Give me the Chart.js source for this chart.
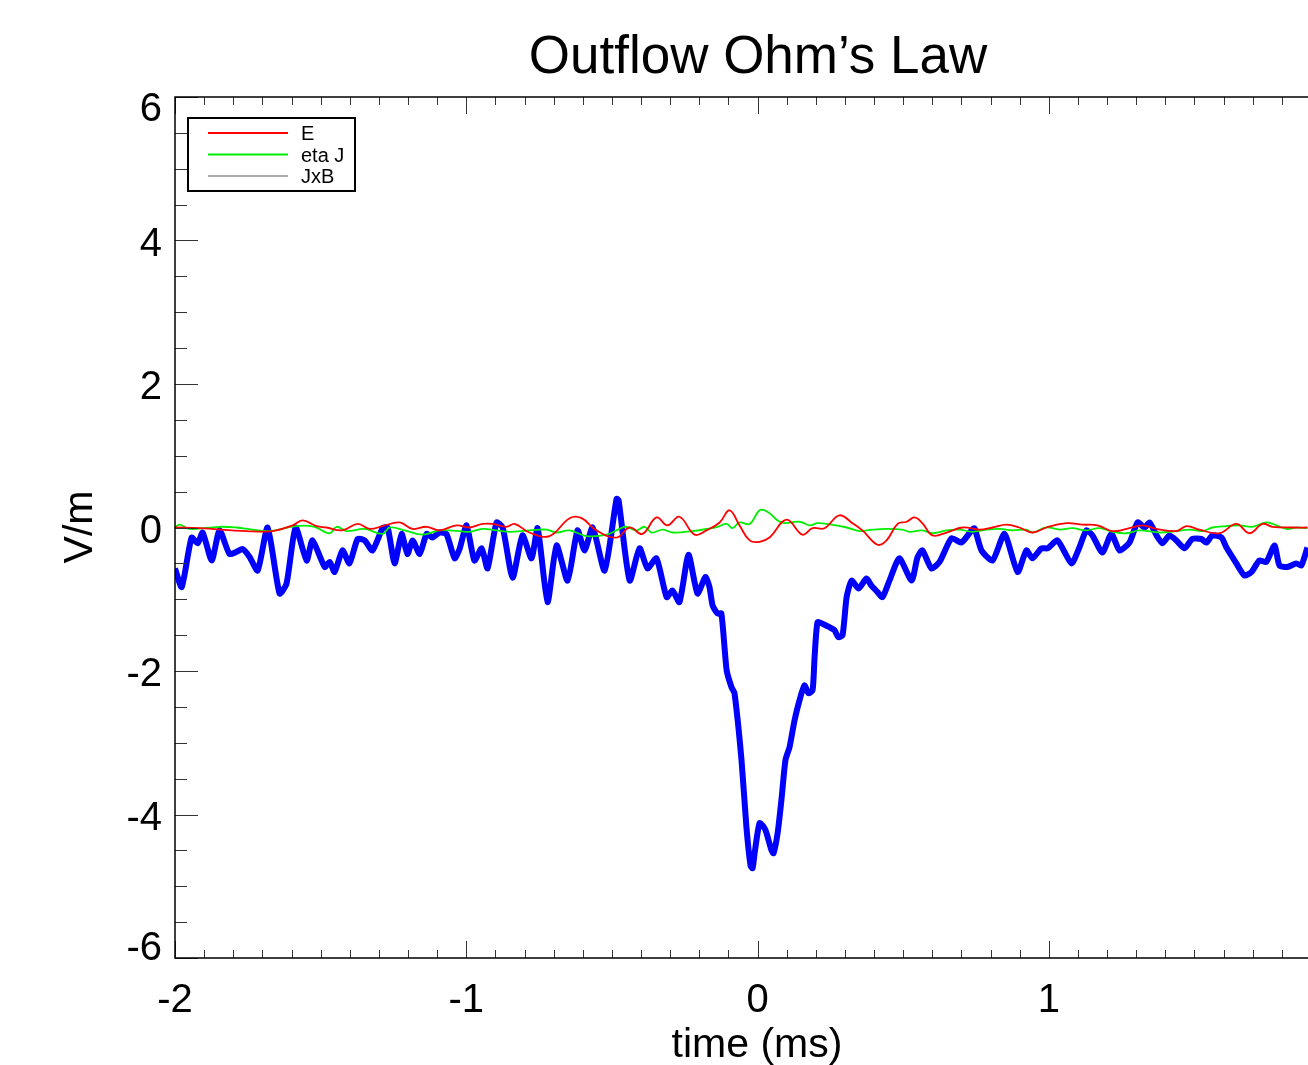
<!DOCTYPE html>
<html>
<head>
<meta charset="utf-8">
<title>Outflow Ohm's Law</title>
<script src="https://cdn.jsdelivr.net/npm/chart.js@4.4.1/dist/chart.umd.min.js"></script>
<style>
  html, body { margin: 0; padding: 0; background: #fff; }
  canvas { display: block; }
</style>
</head>
<body>
<canvas id="ohm" width="1308" height="1065"></canvas>
<script>
// Outflow Ohm's law terms, V/m vs time (ms)

const X_MIN = -2;
const X_MAX = 1.89;
const Y_MIN = -6;
const Y_MAX = 6;
const X_TICKS = [-2, -1, 0, 1];
const Y_TICKS = [-6, -4, -2, 0, 2, 4, 6];
const LEGEND_NAMES = ['E', 'eta J', 'JxB'];

// thick blue trace
const TOTAL_T = [
  -2.000, -1.977, -1.943, -1.922, -1.905, -1.874, -1.847, -1.813, -1.789, -1.768,
  -1.744, -1.716, -1.682, -1.641, -1.617, -1.586, -1.548, -1.528, -1.486, -1.469,
  -1.452, -1.425, -1.401, -1.373, -1.349, -1.322, -1.287, -1.270, -1.246, -1.222,
  -1.202, -1.184, -1.160, -1.136, -1.116, -1.092, -1.068, -1.040, -1.023, -0.999,
  -0.972, -0.947, -0.927, -0.896, -0.875, -0.841, -0.807, -0.776, -0.755, -0.721,
  -0.690, -0.652, -0.618, -0.594, -0.566, -0.525, -0.484, -0.477, -0.439, -0.405,
  -0.378, -0.347, -0.312, -0.292, -0.268, -0.237, -0.206, -0.179, -0.165, -0.154,
  -0.137, -0.124, -0.106, -0.089, -0.079, -0.055, -0.038, -0.024, -0.017, -0.010,
  0.007, 0.024, 0.031, 0.048, 0.055, 0.069, 0.082, 0.096, 0.110, 0.127,
  0.144, 0.161, 0.175, 0.189, 0.196, 0.206, 0.223, 0.247, 0.264, 0.278,
  0.292, 0.306, 0.323, 0.347, 0.374, 0.391, 0.412, 0.429, 0.453, 0.487,
  0.529, 0.549, 0.566, 0.597, 0.625, 0.666, 0.700, 0.735, 0.745, 0.769,
  0.807, 0.848, 0.893, 0.923, 0.944, 0.975, 0.996, 1.030, 1.078, 1.105,
  1.129, 1.150, 1.184, 1.215, 1.243, 1.277, 1.305, 1.329, 1.346, 1.370,
  1.390, 1.414, 1.438, 1.466, 1.493, 1.524, 1.541, 1.562, 1.593, 1.610,
  1.644, 1.672, 1.696, 1.723, 1.747, 1.775, 1.792, 1.819, 1.850, 1.867,
  1.888
];
const TOTAL_V = [
  -0.57, -0.83, -0.14, -0.22, -0.07, -0.46, -0.04, -0.37, -0.34, -0.30,
  -0.41, -0.60, 0.00, -0.92, -0.78, 0.00, -0.46, -0.18, -0.55, -0.48,
  -0.62, -0.32, -0.50, -0.16, -0.18, -0.32, -0.01, 0.00, -0.50, -0.09,
  -0.37, -0.18, -0.37, -0.09, -0.14, -0.07, -0.09, -0.43, -0.30, 0.03,
  -0.46, -0.29, -0.57, 0.07, 0.00, -0.70, -0.11, -0.43, -0.01, -1.04,
  -0.25, -0.74, -0.04, -0.32, 0.00, -0.60, 0.40, 0.38, -0.74, -0.29,
  -0.57, -0.43, -0.97, -0.88, -1.04, -0.38, -0.92, -0.69, -0.83, -1.09,
  -1.20, -1.20, -1.99, -2.23, -2.31, -3.24, -4.18, -4.71, -4.75, -4.54,
  -4.12, -4.19, -4.26, -4.50, -4.54, -4.26, -3.80, -3.24, -3.06, -2.69,
  -2.41, -2.20, -2.31, -2.27, -1.80, -1.32, -1.34, -1.39, -1.43, -1.53,
  -1.50, -0.97, -0.74, -0.85, -0.71, -0.81, -0.90, -0.97, -0.74, -0.43,
  -0.74, -0.42, -0.32, -0.57, -0.48, -0.15, -0.21, -0.04, -0.01, -0.32,
  -0.46, -0.09, -0.62, -0.32, -0.43, -0.29, -0.29, -0.18, -0.50, -0.28,
  -0.04, -0.11, -0.35, -0.09, -0.32, -0.21, 0.07, 0.00, 0.07, -0.11,
  -0.22, -0.11, -0.18, -0.29, -0.16, -0.16, -0.21, -0.11, -0.14, -0.28,
  -0.50, -0.67, -0.62, -0.46, -0.48, -0.25, -0.53, -0.55, -0.50, -0.53,
  -0.28
];

// E (red)
const E_T = [
  -2.000, -1.916, -1.754, -1.665, -1.596, -1.562, -1.514, -1.480, -1.425, -1.373,
  -1.332, -1.287, -1.229, -1.184, -1.136, -1.092, -1.033, -0.989, -0.944, -0.910,
  -0.862, -0.834, -0.783, -0.714, -0.645, -0.604, -0.553, -0.484, -0.439, -0.395,
  -0.347, -0.309, -0.268, -0.216, -0.175, -0.130, -0.096, -0.062, -0.027, 0.007,
  0.041, 0.100, 0.154, 0.189, 0.230, 0.281, 0.326, 0.360, 0.412, 0.443,
  0.481, 0.512, 0.539, 0.566, 0.601, 0.649, 0.704, 0.762, 0.807, 0.855,
  0.899, 0.944, 0.992, 1.061, 1.116, 1.167, 1.219, 1.267, 1.322, 1.370,
  1.438, 1.473, 1.517, 1.586, 1.644, 1.689, 1.734, 1.768, 1.837, 1.888
];
const E_V = [
  0.00, -0.01, -0.05, -0.05, 0.03, 0.10, 0.02, 0.00, -0.04, 0.05,
  -0.02, 0.02, 0.07, -0.02, 0.01, -0.04, 0.03, 0.00, 0.05, 0.05,
  0.01, 0.05, -0.07, -0.12, 0.13, 0.13, -0.04, -0.14, 0.00, -0.09,
  0.14, 0.03, 0.15, -0.10, -0.04, 0.07, 0.24, 0.03, -0.18, -0.20,
  -0.14, 0.11, -0.10, -0.01, -0.01, 0.17, 0.06, -0.04, -0.24, -0.18,
  0.05, 0.08, 0.14, 0.06, -0.11, -0.07, 0.00, -0.03, 0.00, 0.04,
  0.00, -0.07, 0.00, 0.06, 0.04, 0.03, -0.05, -0.02, 0.03, -0.02,
  -0.05, 0.02, -0.03, -0.08, 0.05, -0.08, 0.05, 0.01, 0.00, 0.00
];

// eta J (green)
const ETAJ_T = [
  -2.000, -1.984, -1.950, -1.847, -1.789, -1.734, -1.675, -1.583, -1.521, -1.469,
  -1.445, -1.411, -1.349, -1.287, -1.263, -1.212, -1.150, -1.092, -1.023, -0.989,
  -0.944, -0.896, -0.851, -0.783, -0.724, -0.690, -0.645, -0.587, -0.518, -0.474,
  -0.450, -0.415, -0.388, -0.364, -0.326, -0.292, -0.223, -0.175, -0.137, -0.106,
  -0.086, -0.062, -0.027, 0.007, 0.034, 0.082, 0.144, 0.179, 0.206, 0.254,
  0.306, 0.350, 0.395, 0.443, 0.498, 0.522, 0.566, 0.601, 0.649, 0.693,
  0.738, 0.786, 0.831, 0.875, 0.923, 0.944, 0.992, 1.037, 1.081, 1.129,
  1.174, 1.219, 1.267, 1.311, 1.380, 1.438, 1.483, 1.528, 1.562, 1.610,
  1.655, 1.699, 1.747, 1.782, 1.816, 1.850, 1.888
];
const ETAJ_V = [
  0.00, 0.04, -0.02, 0.01, 0.00, -0.03, -0.05, 0.02, 0.01, -0.08,
  0.01, -0.05, -0.02, -0.09, 0.00, -0.04, -0.10, -0.04, -0.05, -0.06,
  -0.02, -0.04, -0.06, -0.04, -0.03, -0.07, -0.04, -0.12, -0.10, -0.02,
  0.01, -0.04, 0.01, -0.07, -0.03, -0.07, -0.05, -0.02, 0.01, 0.05,
  -0.01, 0.07, 0.05, 0.24, 0.22, 0.07, 0.08, 0.03, 0.06, 0.04,
  0.00, -0.05, -0.03, -0.02, -0.03, -0.06, -0.04, -0.08, -0.04, -0.03,
  -0.06, -0.03, -0.02, -0.04, -0.03, -0.07, 0.00, -0.03, -0.01, -0.04,
  -0.01, -0.06, -0.08, -0.04, -0.07, -0.05, -0.03, -0.05, 0.00, 0.02,
  0.03, 0.01, 0.07, 0.03, -0.02, 0.00, -0.01
];

// JxB appears only in the legend
const JXB_T = [];
const JXB_V = [];

const FONT = "'Liberation Sans', Arial, Helvetica, sans-serif";

function pts(ts, vs) {
  return ts.map((t, i) => ({ x: t, y: vs[i] }));
}

// IDL-style frame: inward ticks, labels, titles, boxed legend
const idlFrame = {
  id: 'idlFrame',
  afterDraw(chart) {
    const { ctx, chartArea: a, scales: { x, y } } = chart;
    const snap = v => Math.round(v) + 0.5;
    ctx.save();

    // x ticks (bottom up, top down)
    ctx.strokeStyle = '#333';
    ctx.lineWidth = 1;
    ctx.beginPath();
    for (let i = 0; ; i++) {
      const v = X_MIN + i * 0.1;
      if (v > X_MAX + 1e-9) break;
      const major = Math.abs(v - Math.round(v)) < 1e-6;
      const len = major ? 17 : 8;
      const px = snap(x.getPixelForValue(v));
      ctx.moveTo(px, a.bottom); ctx.lineTo(px, a.bottom - len);
      ctx.moveTo(px, a.top); ctx.lineTo(px, a.top + len);
    }
    // y ticks (left only)
    for (let i = 0; ; i++) {
      const v = Y_MIN + i * 0.5;
      if (v > Y_MAX + 1e-9) break;
      const major = Math.abs(v / 2 - Math.round(v / 2)) < 1e-6;
      const len = major ? 23 : 12;
      const py = snap(y.getPixelForValue(v));
      ctx.moveTo(a.left, py); ctx.lineTo(a.left + len, py);
    }
    ctx.stroke();

    // axis lines
    ctx.strokeStyle = '#000';
    ctx.lineWidth = 1.5;
    ctx.beginPath();
    ctx.moveTo(a.right, a.top); ctx.lineTo(a.left, a.top);
    ctx.lineTo(a.left, a.bottom); ctx.lineTo(a.right, a.bottom);
    ctx.stroke();

    // tick labels
    ctx.fillStyle = '#000';
    ctx.font = `40px ${FONT}`;
    ctx.textAlign = 'center';
    ctx.textBaseline = 'alphabetic';
    X_TICKS.forEach(v => ctx.fillText(String(v), x.getPixelForValue(v), a.bottom + 54));
    ctx.textAlign = 'right';
    Y_TICKS.forEach(v => {
      let base = y.getPixelForValue(v) + 15;
      if (v === Y_MAX) base = a.top + 24;
      if (v === Y_MIN) base = a.bottom + 2;
      ctx.fillText(String(v), a.left - 13, base);
    });

    // titles
    ctx.textAlign = 'center';
    ctx.font = `53px ${FONT}`;
    ctx.fillText('Outflow Ohm\u2019s Law', 758, 73);
    ctx.font = `41px ${FONT}`;
    ctx.fillText('time (ms)', 757, 1057);
    ctx.save();
    ctx.translate(92, 527);
    ctx.rotate(-Math.PI / 2);
    ctx.fillText('V/m', 0, 0);
    ctx.restore();

    // legend
    ctx.fillStyle = '#fff';
    ctx.fillRect(188, 118, 167, 73);
    ctx.strokeStyle = '#000';
    ctx.lineWidth = 2;
    ctx.strokeRect(188, 118, 167, 73);
    ctx.font = `20px ${FONT}`;
    ctx.textAlign = 'left';
    LEGEND_NAMES.forEach((name, i) => {
      const ds = chart.data.datasets[i];
      const ly = 133 + i * 21.5;
      ctx.strokeStyle = ds.borderColor;
      ctx.lineWidth = 2;
      ctx.beginPath();
      ctx.moveTo(208, ly); ctx.lineTo(288, ly);
      ctx.stroke();
      ctx.fillStyle = '#000';
      ctx.fillText(name, 301, ly + 7);
    });

    ctx.restore();
  }
};

new Chart(document.getElementById('ohm'), {
  type: 'line',
  data: {
    datasets: [
      { label: LEGEND_NAMES[0], data: pts(E_T, E_V), borderColor: '#ff0000', borderWidth: 1.8, tension: 0.4 },
      { label: LEGEND_NAMES[1], data: pts(ETAJ_T, ETAJ_V), borderColor: '#00ee00', borderWidth: 1.8, tension: 0.4 },
      { label: LEGEND_NAMES[2], data: pts(JXB_T, JXB_V), borderColor: '#aaaaaa', borderWidth: 1.8 },
      { label: 'total', data: pts(TOTAL_T, TOTAL_V), borderColor: '#0000ff', borderWidth: 6, tension: 0.2, borderJoinStyle: 'round' },
    ],
  },
  options: {
    responsive: false,
    animation: false,
    elements: { point: { radius: 0 } },
    layout: { padding: { left: 175, top: 97, right: 0, bottom: 107 } },
    scales: {
      x: { type: 'linear', min: X_MIN, max: X_MAX, display: false },
      y: { type: 'linear', min: Y_MIN, max: Y_MAX, display: false },
    },
    plugins: {
      legend: { display: false },
      tooltip: { enabled: false },
      title: { display: false },
    },
  },
  plugins: [idlFrame],
});
</script>
</body>
</html>
